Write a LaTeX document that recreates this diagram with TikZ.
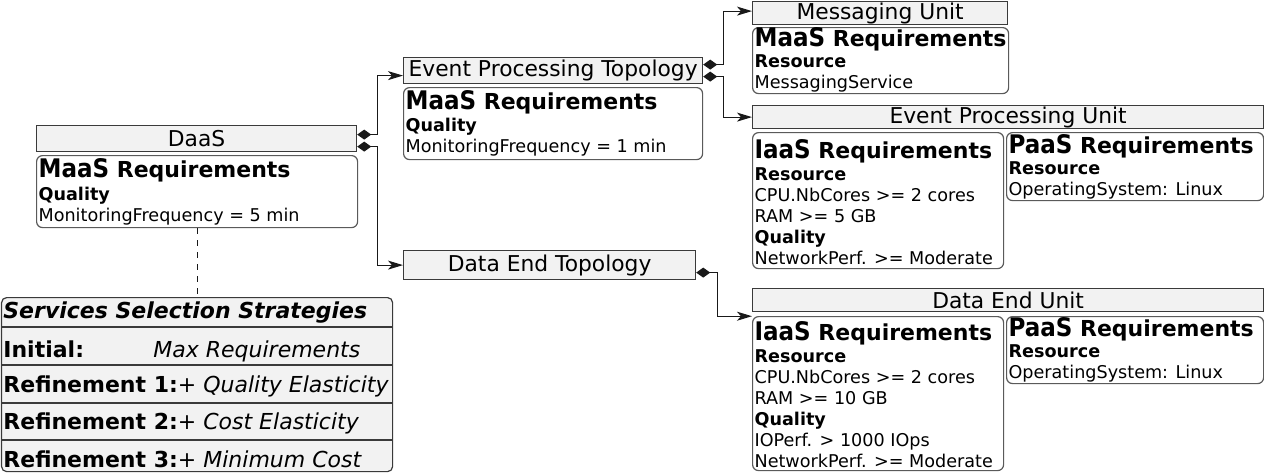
\documentclass[tikz,border=0pt]{standalone}
\usepackage{fontspec}
\setmainfont{DejaVu Sans}
\newfontfamily\condfont{DejaVu Sans Condensed}
\usepackage{tikz}
\usetikzlibrary{arrows.meta}

\definecolor{hdrfill}{HTML}{F2F2F2}
\definecolor{hdrline}{HTML}{3A3A3A}
\definecolor{boxline}{HTML}{5A5A5A}

\newcommand{\reqhead}[1]{{\condfont\bfseries\fontsize{12.8}{13}\selectfont #1}{\fontsize{11}{12}\selectfont\bfseries\ Requirements}}

\tikzset{
  hdr/.style={draw=hdrline, fill=hdrfill, line width=0.6pt, anchor=north west, inner sep=0pt, font=\fontsize{10.9}{12}\selectfont},
  req/.style={draw=boxline, fill=white, rounded corners=3pt, line width=0.6pt, anchor=north west, inner xsep=1pt, inner ysep=0pt, font=\fontsize{8.8}{10.5}\selectfont},
  ssstext/.style={anchor=base west, inner sep=0pt, font=\fontsize{11}{13}\selectfont},
  link/.style={draw=black!90, line width=0.6pt, {Diamond[length=7pt,width=5pt]}-{Stealth[length=7.5pt,width=4.5pt,inset=2pt]}},
}

\begin{document}
\begin{tikzpicture}[x=0.5pt, y=-0.5pt]
\useasboundingbox (0,0) rectangle (1264,472);
% DaaS
\node[hdr, minimum width=160pt, minimum height=13pt] (daas) at (36,125) {DaaS};
\node[req] (daasreq) at (36,155) {\parbox[t][32.8pt][b]{158.5pt}{\reqhead{MaaS}\\[1pt]
\textbf{Quality}\\
MonitoringFrequency = 5 min\rule[-3.2pt]{0pt}{0pt}}};
% event processing topology
\node[hdr, minimum width=149.5pt, minimum height=13pt] (ept) at (403,57) {Event Processing Topology};
\node[req] (eptreq) at (403,87) {\parbox[t][32.5pt][b]{147.5pt}{\reqhead{MaaS}\\[0.5pt]
\textbf{Quality}\\
MonitoringFrequency = 1 min\rule[-3.5pt]{0pt}{0pt}}};
% data end topology
\node[hdr, minimum width=146pt, minimum height=14.5pt] (det) at (403,250) {Data End Topology};
% messaging unit
\node[hdr, minimum width=127.5pt, minimum height=11.5pt] (msg) at (752,1) {Messaging Unit};
\node[req] (msgreq) at (752,27) {\parbox[t][30.5pt][b]{126pt}{\reqhead{MaaS}\\[0pt]
\textbf{Resource}\\
MessagingService\rule[-2.5pt]{0pt}{0pt}}};
% event processing unit
\node[hdr, minimum width=255.5pt, minimum height=11.5pt] (epu) at (752,105) {Event Processing Unit};
\node[req] (epuiaas) at (752,132) {\parbox[t][66pt][b]{123.5pt}{\reqhead{IaaS}\\[0.5pt]
\textbf{Resource}\\
CPU.NbCores >= 2 cores\\
RAM >= 5 GB\\
\textbf{Quality}\\
NetworkPerf. >= Moderate\rule[-2pt]{0pt}{0pt}}};
\node[req] (epupaas) at (1006,132) {\parbox[t][31.5pt][b]{126.5pt}{\reqhead{PaaS}\\[0pt]
\textbf{Resource}\\
OperatingSystem: Linux\rule[-2.5pt]{0pt}{0pt}}};
% data end unit
\node[hdr, minimum width=255.5pt, minimum height=11.5pt] (deu) at (752,288) {Data End Unit};
\node[req] (deuiaas) at (752,316) {\parbox[t][75.2pt][b]{123.5pt}{\reqhead{IaaS}\\[0.5pt]
\textbf{Resource}\\
CPU.NbCores >= 2 cores\\
RAM >= 10 GB\\
\textbf{Quality}\\
IOPerf. > 1000 IOps\\
NetworkPerf. >= Moderate\rule[-1.8pt]{0pt}{0pt}}};
\node[req] (deupaas) at (1006,316) {\parbox[t][31pt][b]{126.5pt}{\reqhead{PaaS}\\[0pt]
\textbf{Resource}\\
OperatingSystem: Linux\rule[-2.5pt]{0pt}{0pt}}};
% services selection strategies
\node[draw=hdrline, fill=hdrfill, line width=0.6pt, rounded corners=2.5pt, anchor=north west, inner sep=0pt, minimum width=195.5pt, minimum height=87pt] (sss) at (1,297) {};
\draw[hdrline, line width=0.6pt] (sss.west |- 0,327) -- (sss.east |- 0,327);
\draw[hdrline, line width=0.6pt] (sss.west |- 0,365) -- (sss.east |- 0,365);
\draw[hdrline, line width=0.6pt] (sss.west |- 0,403) -- (sss.east |- 0,403);
\draw[hdrline, line width=0.6pt] (sss.west |- 0,440) -- (sss.east |- 0,440);
\node[ssstext] (ssshead) at (3,318) {\bfseries\itshape Services Selection Strategies};
\node[ssstext] (sssinit) at (3,357) {\bfseries Initial:};
\node[ssstext] (sssinitval) at (153,357) {\itshape Max Requirements};
\node[ssstext] (sssref1) at (3,392) {\textbf{Refinement 1:}+ \textit{Quality Elasticity}};
\node[ssstext] (sssref2) at (3,429) {\textbf{Refinement 2:}+ \textit{Cost Elasticity}};
\node[ssstext] (sssref3) at (3,467) {\textbf{Refinement 3:}+ \textit{Minimum Cost}};
% compositions
\draw[link] ([yshift=2pt]daas.east) -- ++(20,0) |- ([yshift=-2.5pt]ept.west);
\draw[link] ([yshift=-4pt]daas.east) -- ++(20,0) |- (det.west);
\draw[link] ([yshift=3pt]ept.east) -- ++(20,0) |- ([yshift=1pt]msg.west);
\draw[link] ([yshift=-3pt]ept.east) -- ++(20,0) |- (epu.west);
\draw[link] ([yshift=-3.75pt]det.east) -- ++(21,0) |- ([yshift=-2pt]deu.south west);
% strategy note
\draw[black!90, line width=0.6pt, dash pattern=on 3pt off 3pt] (daasreq.south) -- (sss.north);
\end{tikzpicture}
\end{document}
